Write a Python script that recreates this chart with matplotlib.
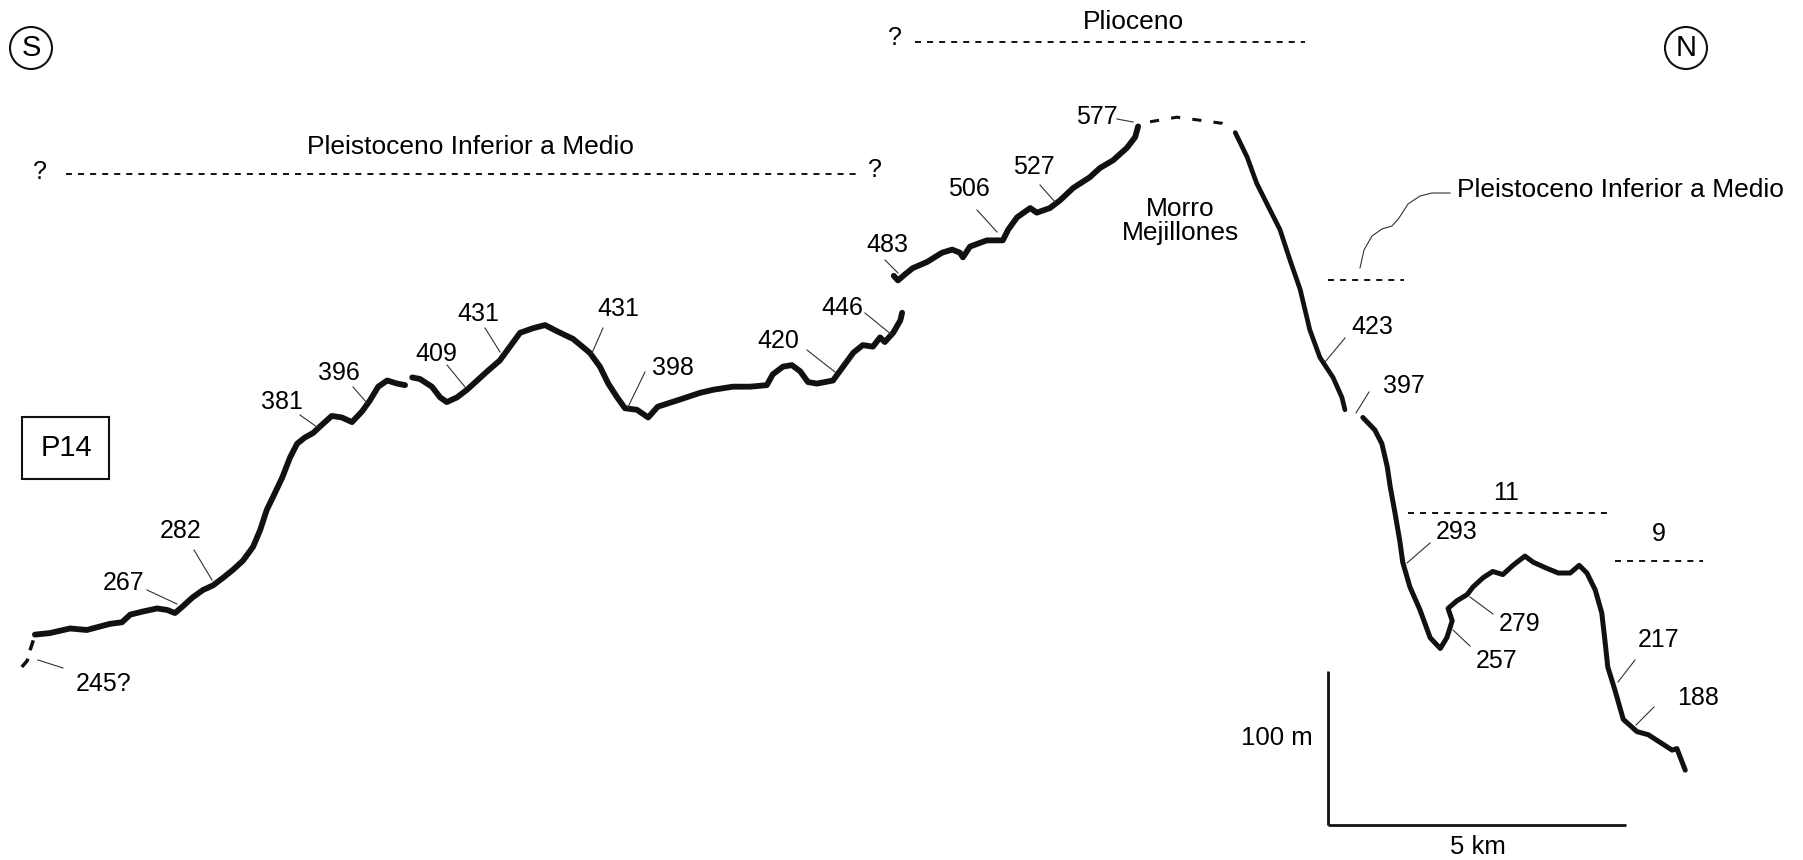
import matplotlib
matplotlib.use('Agg')
import matplotlib.pyplot as plt
from matplotlib.patches import Ellipse, Rectangle

plt.rcParams['font.family'] = ['Liberation Sans', 'DejaVu Sans']

# Perfil P14, distancia desde el extremo sur (km) y cota (m)
start_km = [-0.02, 0.07, 0.12, 0.17, 0.20]
start_m = [226, 230, 237, 243, 247]

seg1a_km = [0.20, 0.45, 0.79, 1.07, 1.46, 1.66, 1.80, 2.01, 2.25, 2.42,
            2.55, 2.67, 2.84, 3.02, 3.19, 3.36, 3.52, 3.69, 3.86, 3.98,
            4.09, 4.19, 4.35, 4.48, 4.60, 4.73, 4.87, 4.98, 5.18, 5.35,
            5.52, 5.69, 5.82, 5.96, 6.11, 6.28, 6.41]
seg1a_m = [247, 248, 251, 250, 254, 255, 260, 262, 264, 263,
           261, 265, 271, 276, 279, 284, 289, 295, 304, 315,
           328, 336, 349, 362, 371, 375, 378, 382, 389, 388,
           385, 392, 399, 408, 412, 410, 409]

seg1b_km = [6.53, 6.66, 6.86, 7.00, 7.11, 7.28, 7.45, 7.62, 7.79, 8.00,
            8.17, 8.34, 8.56, 8.76, 8.96, 9.23, 9.51, 9.68, 9.82, 9.97,
            10.10, 10.30, 10.49, 10.65, 10.97, 11.36, 11.58, 11.91, 12.20, 12.48,
            12.58, 12.75, 12.90, 13.04, 13.17, 13.32, 13.59, 13.76, 13.93, 14.09,
            14.26, 14.38, 14.46, 14.60, 14.72, 14.75]
seg1b_m = [414, 413, 408, 401, 398, 401, 406, 412, 418, 425,
           434, 443, 446, 448, 444, 439, 430, 421, 410, 401,
           394, 393, 388, 395, 399, 404, 406, 408, 408, 409,
           416, 421, 422, 418, 411, 410, 412, 421, 430, 435,
           434, 440, 437, 443, 451, 456]

seg2_km = [14.61, 14.68, 14.80, 14.93, 15.17, 15.42, 15.59, 15.72, 15.77, 15.89,
           16.17, 16.44, 16.53, 16.68, 16.90, 17.01, 17.23, 17.40, 17.62, 17.90,
           18.07, 18.29, 18.52, 18.66, 18.71]
seg2_m = [480, 477, 481, 485, 489, 495, 497, 495, 492, 499,
          503, 503, 510, 518, 524, 521, 524, 529, 537, 544,
          550, 555, 563, 570, 577]

top_km = [18.91, 19.36, 19.75, 20.12, 20.25]
top_m = [580, 583, 581, 579, 576]

seg3_km = [20.34, 20.54, 20.70, 20.92, 21.09, 21.26, 21.43, 21.59, 21.76, 21.98,
           22.13, 22.18]
seg3_m = [573, 557, 540, 523, 510, 490, 471, 445, 427, 414, 401, 393]

seg4_km = [22.48, 22.68, 22.80, 22.89, 22.94, 23.02, 23.10, 23.15, 23.27, 23.44,
           23.61, 23.78, 23.89, 23.98, 23.91, 24.06, 24.23, 24.33, 24.50, 24.66,
           24.83, 25.00, 25.20, 25.34, 25.57, 25.76, 25.96, 26.11, 26.24, 26.38,
           26.49, 26.54, 26.59, 26.71, 26.85, 27.08, 27.27, 27.47, 27.67, 27.75,
           27.80, 27.89]
seg4_m = [388, 380, 371, 356, 343, 326, 308, 294, 278, 263,
          245, 238, 245, 256, 264, 269, 273, 278, 284, 288,
          286, 292, 298, 294, 290, 287, 287, 292, 287, 276,
          261, 244, 226, 211, 192, 184, 182, 177, 172, 173,
          168, 159]

# cotas de terrazas
terrace_labels = ['245?', '267', '282', '381', '396', '409', '431', '431', '398', '420',
                  '446', '483', '506', '527', '577', '423', '397', '293', '279', '257',
                  '217', '188']

# layout on the 1803x860 sheet (pixels): text centre, leader start, leader end
label_pos = [(104, 684), (124, 583), (181, 531), (282, 402), (339, 373), (436, 354),
             (478, 314), (618, 309), (673, 368), (778, 341), (842, 308), (887, 245),
             (969, 189), (1034, 167), (1097, 117), (1372, 327), (1404, 386), (1457, 532),
             (1520, 624), (1497, 661), (1659, 640), (1698, 698)]
leader_pos = [((38, 660), (63, 668)), ((147, 590), (177, 604)), ((194, 550), (212, 580)),
              ((300, 415), (317, 427)), ((353, 387), (367, 403)), ((447, 365), (465, 387)),
              ((485, 328), (500, 352)), ((603, 328), (592, 353)), ((645, 372), (628, 407)),
              ((807, 350), (835, 372)), ((865, 313), (892, 335)), ((885, 260), (898, 273)),
              ((977, 210), (997, 232)), ((1040, 185), (1055, 202)), ((1117, 119), (1133, 122)),
              ((1345, 338), (1325, 362)), ((1369, 392), (1356, 413)), ((1430, 543), (1407, 563)),
              ((1470, 597), (1493, 614)), ((1453, 630), (1470, 646)), ((1635, 660), (1618, 682)),
              ((1654, 707), (1636, 725))]

# escala del dibujo: 5 km = 298 px, 100 m = 154 px
KM_PX = 59.6
M_PX = 1.54
X0, Y0 = 23, 1015


def pos(x, y):
    # pixel on the sheet -> (km, m)
    return (x - X0) / KM_PX, (Y0 - y) / M_PX


fig = plt.figure(figsize=(18.03, 8.60), dpi=100)
ax = fig.add_axes([0, 0, 1, 1])
ax.set_xlim(pos(0, 0)[0], pos(1803, 0)[0])
ax.set_ylim(pos(0, 860)[1], pos(0, 0)[1])
ax.axis('off')

ink = '#111111'
fs_num = 18
fs_word = 19

# perfil
ax.plot(start_km, start_m, color=ink, lw=2.5, ls=(0, (3, 2.5)), solid_capstyle='butt')
for xs, ys, w in [(seg1a_km, seg1a_m, 4.2), (seg1b_km, seg1b_m, 4.2), (seg2_km, seg2_m, 4.2),
                  (seg3_km, seg3_m, 3.4), (seg4_km, seg4_m, 3.6)]:
    ax.plot(xs, ys, color=ink, lw=w, solid_joinstyle='round', solid_capstyle='round')
ax.plot(top_km, top_m, color=ink, lw=2.2, ls=(0, (3, 4)))

# etiquetas de cotas
for txt, (tx, ty), (a, b) in zip(terrace_labels, label_pos, leader_pos):
    ax.text(*pos(tx, ty), txt, fontsize=fs_num, ha='center', va='center', color='black')
    ax.plot([pos(*a)[0], pos(*b)[0]], [pos(*a)[1], pos(*b)[1]], color='#333333', lw=0.8)

# niveles de referencia (lineas discontinuas)
dash = (0, (3.1, 3.1))
for (x1, x2, y) in [(66, 857, 174), (915, 1305, 42), (1328, 1404, 280),
                    (1408, 1607, 513), (1615, 1703, 561)]:
    ax.plot([pos(x1, y)[0], pos(x2, y)[0]], [pos(x1, y)[1]] * 2, color=ink, lw=1.4, ls=dash)

ax.text(*pos(470, 147), 'Pleistoceno Inferior a Medio', fontsize=fs_word, ha='center', va='center')
ax.text(*pos(40, 172), '?', fontsize=fs_num, ha='center', va='center')
ax.text(*pos(875, 170), '?', fontsize=fs_num, ha='center', va='center')
ax.text(*pos(1133, 22), 'Plioceno', fontsize=fs_word, ha='center', va='center')
ax.text(*pos(895, 38), '?', fontsize=fs_num, ha='center', va='center')
ax.text(*pos(1180, 221), 'Morro\nMejillones', fontsize=fs_word, ha='center', va='center',
        linespacing=1.0)
ax.text(*pos(1457, 190), 'Pleistoceno Inferior a Medio', fontsize=fs_word, ha='left', va='center')
ax.text(*pos(1506, 493), '11', fontsize=fs_num, ha='center', va='center')
ax.text(*pos(1659, 534), '9', fontsize=fs_num, ha='center', va='center')

# guia curva hacia el rotulo de la derecha
curve = [(1360, 268), (1364, 250), (1372, 236), (1382, 229), (1392, 226), (1399, 218),
         (1408, 204), (1420, 196), (1432, 193), (1450, 193)]
ax.plot([pos(*p)[0] for p in curve], [pos(*p)[1] for p in curve], color='#333333', lw=0.8)

# N y S
for (cx, cy), letter in [((31, 48), 'S'), ((1686, 48), 'N')]:
    c = pos(cx, cy)
    ax.add_patch(Ellipse(c, 42 / KM_PX, 42 / M_PX, fill=False, ec=ink, lw=1.5))
    ax.text(c[0], c[1], letter, fontsize=21, ha='center', va='center')

# recuadro P14
p0 = pos(22, 479)
ax.add_patch(Rectangle(p0, 87 / KM_PX, 62 / M_PX, fill=False, ec=ink, lw=1.5))
ax.text(*pos(66, 448), 'P14', fontsize=21, ha='center', va='center')

# barra de escala
corner = pos(1328, 825)
ax.plot([corner[0], corner[0]], [corner[1], corner[1] + 100], color=ink, lw=2.0,
        solid_capstyle='butt')
ax.plot([corner[0], corner[0] + 5], [corner[1], corner[1]], color=ink, lw=2.0,
        solid_capstyle='butt')
ax.text(*pos(1277, 738), '100 m', fontsize=18.5, ha='center', va='center')
ax.text(*pos(1478, 847), '5 km', fontsize=18.5, ha='center', va='center')

fig.savefig('out.png', dpi=100, facecolor='white')
